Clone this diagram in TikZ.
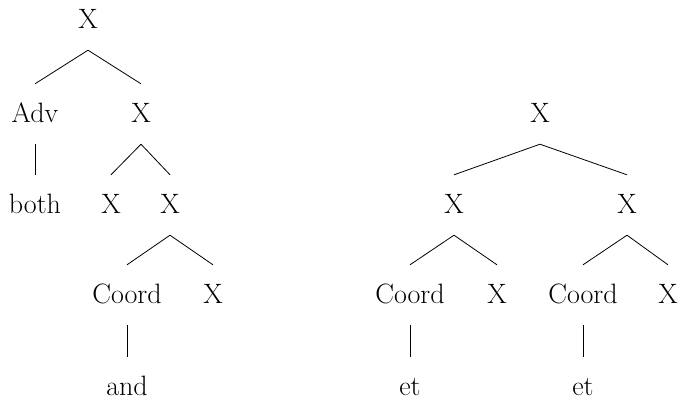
\documentclass[tikz,border=0pt]{standalone}
\begin{document}
\begin{tikzpicture}[x=1pt,y=-1pt,
  lab/.style={anchor=base,inner xsep=0pt,inner ysep=16pt,text height=22pt,text depth=6pt,font=\fontsize{28}{32}\selectfont},
  edge/.style={line width=0.8pt}]
\useasboundingbox (0,0) rectangle (678,400);
% tree 1
\node[lab] (r1) at (88,28) {X};
\node[lab] (adv) at (35,122) {Adv};
\node[lab] (x1) at (141,122) {X};
\node[lab] (both) at (35,213) {both};
\node[lab] (x2) at (111,213) {X};
\node[lab] (x3) at (170,213) {X};
\node[lab] (co1) at (127,303) {Coord};
\node[lab] (x4) at (213,303) {X};
\node[lab] (and) at (127,395) {and};
\draw[edge] (r1.south) -- (adv.north);
\draw[edge] (r1.south) -- (x1.north);
\draw[edge] (adv.south) -- (both.north);
\draw[edge] (x1.south) -- (x2.north);
\draw[edge] (x1.south) -- (x3.north);
\draw[edge] (x3.south) -- (co1.north);
\draw[edge] (x3.south) -- (x4.north);
\draw[edge] (co1.south) -- (and.north);
% tree 2
\node[lab] (r2) at (540,122) {X};
\node[lab] (y1) at (454,213) {X};
\node[lab] (y2) at (627,213) {X};
\node[lab] (co2) at (410,303) {Coord};
\node[lab] (y3) at (497,303) {X};
\node[lab] (co3) at (583,303) {Coord};
\node[lab] (y4) at (668,303) {X};
\node[lab] (et1) at (410,395) {et};
\node[lab] (et2) at (583,395) {et};
\draw[edge] (r2.south) -- (y1.north);
\draw[edge] (r2.south) -- (y2.north);
\draw[edge] (y1.south) -- (co2.north);
\draw[edge] (y1.south) -- (y3.north);
\draw[edge] (y2.south) -- (co3.north);
\draw[edge] (y2.south) -- (y4.north);
\draw[edge] (co2.south) -- (et1.north);
\draw[edge] (co3.south) -- (et2.north);
\end{tikzpicture}
\end{document}
